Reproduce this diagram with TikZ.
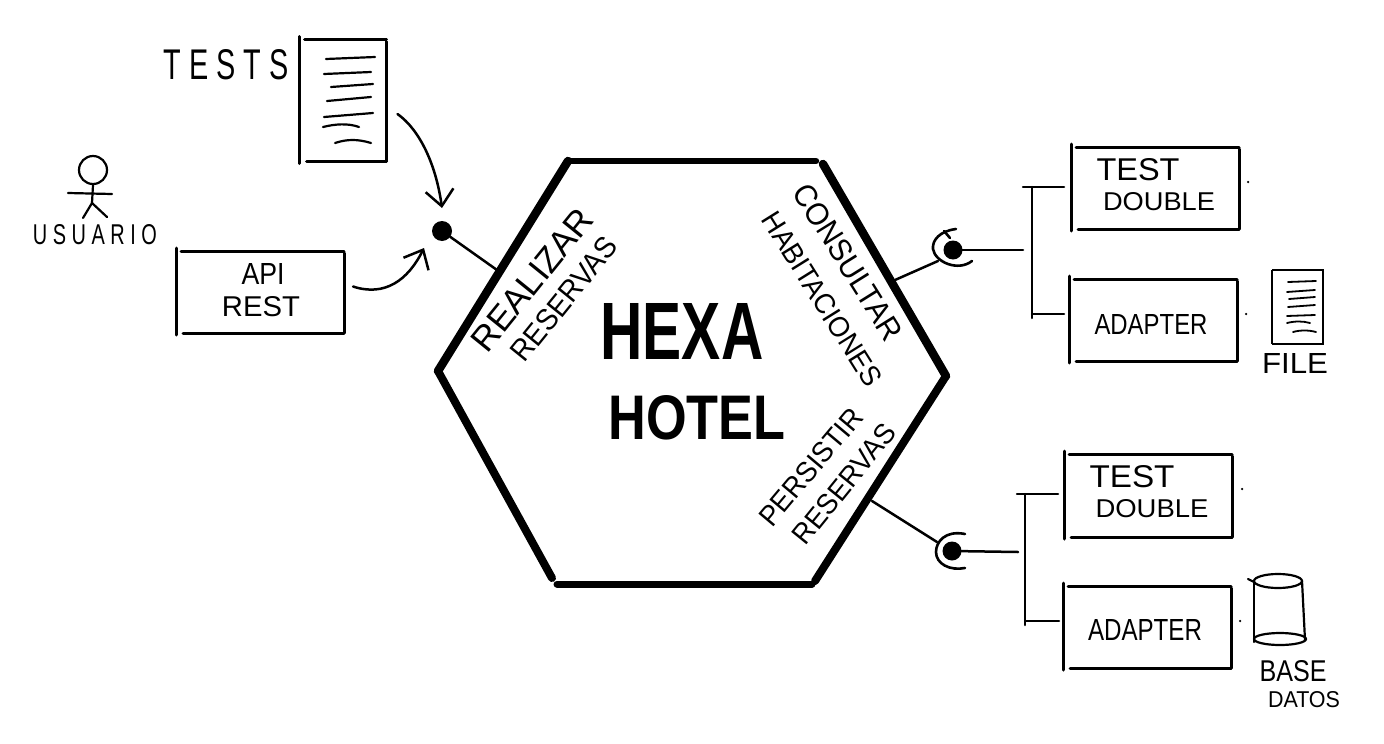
\documentclass[tikz,border=0pt]{standalone}
\usepackage{graphicx}
\usepackage{fontspec}
\setmainfont{Liberation Sans}
\usetikzlibrary{arrows.meta}
\newcommand{\fitt}[3]{\resizebox{#1pt}{#2pt}{#3}}
\newcommand{\handsides}[2][]{%
  \draw[side,#1] ([xshift=5pt,yshift=-1pt]#2.north west) -- ([yshift=-1pt]#2.north east);
  \draw[side,#1] ([yshift=2pt]#2.north west) -- ([yshift=-2pt]#2.south west);
  \draw[side,#1] ([yshift=-3pt]#2.north east) -- (#2.south east);
  \draw[side,#1] ([xshift=7pt]#2.south west) -- (#2.south east);
}
\tikzset{
  x=1pt,y=-1pt,
  side/.style={line width=3pt,line cap=round},
  thinside/.style={line width=2pt},
  hexedge/.style={line width=8pt,line cap=round},
  wire/.style={line width=2.5pt,line cap=round},
  ink/.style={line width=2.2pt,line cap=round},
  writing/.style={line width=1.8pt,line cap=round},
  flow/.style={line width=2.5pt,line cap=round,-{Straight Barb[length=16pt,width=28pt,line width=2.5pt]}},
  holder/.style={inner sep=0pt,outer sep=0pt,rectangle},
  label/.style={inner sep=0pt,outer sep=0pt,font=\normalfont},
  port/.style={circle,fill=black,inner sep=0pt,outer sep=0pt,minimum size=17pt},
  speck/.style={circle,fill=black,inner sep=0pt,outer sep=0pt,minimum size=2.5pt},
}
\begin{document}
\begin{tikzpicture}
\useasboundingbox[fill=white] (0,0) rectangle (1384,744);

% hexagon corners and connection points
\coordinate (htl) at (568,161);
\coordinate (htr) at (816,161);
\coordinate (hrt) at (823,164);
\coordinate (hr)  at (946,376);
\coordinate (hbr) at (815,581);
\coordinate (hbrb) at (812,584);
\coordinate (hbl) at (557,584);
\coordinate (hblu) at (552,578);
\coordinate (hl)  at (438,371);
\coordinate (hport1) at (497,270);
\coordinate (hport2) at (895,280);
\coordinate (hport3) at (872,501);

\draw[hexedge,line width=6.5pt] (htl) -- (htr);
\draw[hexedge,line width=8.5pt] (htl) -- (hl);
\draw[hexedge] (hl) -- (hblu);
\draw[hexedge,line width=7pt] (hbl) -- (hbrb);
\draw[hexedge] (hbr) -- (hr);
\draw[hexedge,line width=8.5pt] (hrt) -- (hr);

% hexagon texts
\node[label] (hexa) at (682,331) {\fitt{163}{56}{\bfseries HEXA}};
\node[label] (hotel) at (697,418) {\fitt{177}{44}{\bfseries HOTEL}};
\node[label,rotate=51] (realizar) at (532,280) {\fitt{172}{24}{REALIZAR}};
\node[label,rotate=51] (reservas1) at (564,299) {\fitt{150}{21}{RESERVAS}};
\node[label,rotate=-58] (consultar) at (848,262) {\fitt{178}{22}{CONSULTAR}};
\node[label,rotate=-58] (habit) at (822,299) {\fitt{200}{20}{HABITACIONES}};
\node[label,rotate=50] (persistir) at (811,467) {\fitt{144}{20}{PERSISTIR}};
\node[label,rotate=51] (reservas2) at (844,484) {\fitt{146}{20}{RESERVAS}};

% tests document
\node[holder,minimum width=87pt,minimum height=123pt] (tests) at (343,100) {};
\handsides{tests}
\draw[ink] (326,59) -- (375,57);
\draw[ink] (324,74) -- (371,72);
\draw[ink] (331,87) -- (373,84);
\draw[ink] (327,101) -- (371,97);
\draw[ink] (324,117) -- (373,113);
\draw[ink] (323,127) .. controls (335,124) and (348,123) .. (359,127);
\draw[ink] (335,143) .. controls (347,139) and (358,139) .. (371,143);
\node[label] (testslabel) at (226,65) {\fitt{125}{30}{T E S T S}};

% person
\node[circle,draw,line width=2.2pt,inner sep=0pt,minimum size=28pt] (head) at (93,170) {};
\coordinate (hip) at (92,203);
\coordinate (armL) at (68,193);
\coordinate (armR) at (112,194);
\coordinate (legL) at (83,218);
\coordinate (legR) at (107,217);
\draw[ink] (head.south) -- (hip);
\draw[ink] (armL) -- (armR);
\draw[ink] (legL) -- (hip) -- (legR);
\node[label] (usuario) at (95,235) {\fitt{124}{20}{U S U A R I O}};

% API box
\node[holder,minimum width=168pt,minimum height=83pt] (api) at (260,291.5) {};
\handsides{api}
\node[label] (apilabel) at (263,274) {\fitt{43}{21}{API}};
\node[label] (restlabel) at (261,307) {\fitt{78}{20}{REST}};

% port 1
\node[port,minimum size=20pt] (port1) at (442,231) {};
\draw[wire] (port1) -- (hport1);
\draw[flow] ([xshift=11pt,yshift=-14pt]tests.east) .. controls (420,130) and (436,165) .. ([yshift=23pt]port1.center);
\draw[flow] ([xshift=9pt,yshift=5pt]api.east) .. controls (385,297) and (408,280) .. ([xshift=-18pt,yshift=-17pt]port1.center);

% port 2
\node[port,minimum size=19pt] (port2) at (953,250) {};
\coordinate (branch2) at (1023,250);
\draw[wire] (port2) -- (branch2);
\draw[wire] (hport2) -- (938,261);
\draw[line width=2.6pt,line cap=round] (956,229) .. controls (940,231) and (932,240) .. (933,249) .. controls (935,262) and (958,272) .. (972,261);
\draw[line width=2.6pt,line cap=round] (944,231) -- (950,238);

% port 3
\node[port,minimum size=19pt] (port3) at (952,551) {};
\coordinate (branch3) at (1018,552);
\draw[wire] (port3) -- (branch3);
\draw[wire] (hport3) -- (937,542);
\draw[line width=2.6pt,line cap=round] (965,534) .. controls (945,530) and (936,542) .. (936,552) .. controls (936,564) and (950,571) .. (965,568);

% upper right boxes
\node[holder,minimum width=168pt,minimum height=83pt] (td1) at (1155,187.5) {};
\handsides{td1}
\node[label] (td1a) at (1138,170) {\fitt{83}{22}{TEST}};
\node[label] (td1b) at (1159,202) {\fitt{112}{18}{DOUBLE}};
\node[holder,minimum width=168pt,minimum height=83pt] (ad1) at (1153,319.5) {};
\handsides{ad1}
\node[label] (ad1a) at (1151,324) {\fitt{113}{20}{ADAPTER}};
\draw[wire] (1023,187) -- ([xshift=-7pt,yshift=0.5pt]td1.west);
\draw[wire] (1032,187) -- (1032,318);
\draw[wire] (1032,314) -- ([xshift=-5pt,yshift=5.5pt]ad1.west);
\node[speck] (s1) at (1248,182) {};
\node[speck] (s2) at (1246,314) {};

% lower right boxes
\node[holder,minimum width=168pt,minimum height=84pt] (td2) at (1148,495) {};
\handsides{td2}
\node[label] (td2a) at (1132,477) {\fitt{85}{22}{TEST}};
\node[label] (td2b) at (1152,509) {\fitt{113}{18}{DOUBLE}};
\node[holder,minimum width=168pt,minimum height=83pt] (ad2) at (1147,626.5) {};
\handsides{ad2}
\node[label] (ad2a) at (1145,630) {\fitt{114}{21}{ADAPTER}};
\draw[wire] (1017,494) -- ([xshift=-6pt,yshift=1pt]td2.west);
\draw[wire] (1025,494) -- (1025,625);
\draw[wire] (1025,621) -- ([xshift=-4pt,yshift=5.5pt]ad2.west);
\node[speck] (s3) at (1242,489) {};
\node[speck] (s4) at (1240,621) {};

% file
\node[holder,minimum width=51pt,minimum height=74pt] (file) at (1297.5,307) {};
\draw[thinside] (file.north west) -- (file.south west);
\draw[thinside] (file.north west) -- (file.north east) -- (file.south east) -- (file.south west);
\draw[writing] (1288,282) -- (1316,281);
\draw[writing] (1287,292) -- (1315,290);
\draw[writing] (1289,299) -- (1315,297);
\draw[writing] (1288,307) -- (1315,305);
\draw[writing] (1287,316) -- (1315,315);
\draw[writing] (1287,323) .. controls (1295,321) and (1303,321) .. (1310,323);
\draw[writing] (1293,332) .. controls (1300,330) and (1309,330) .. (1316,332);
\node[label] (filelabel) at (1295,363) {\fitt{66}{20}{FILE}};

% database
\draw[ink] (1278,581) ellipse [x radius=24,y radius=7];
\draw[ink] (1280,639) ellipse [x radius=26,y radius=6];
\coordinate (cylTL) at (1254,582);
\coordinate (cylBL) at (1254,642);
\coordinate (cylTR) at (1302,581);
\coordinate (cylBR) at (1305,640);
\draw[ink] (cylTL) -- (cylBL);
\draw[ink] (cylTR) -- (cylBR);
\draw[ink] (1248,579) -- (cylTL);
\node[label] (base) at (1293,671) {\fitt{67}{21}{BASE}};
\node[label] (datos) at (1304,700) {\fitt{72}{16}{DATOS}};
\end{tikzpicture}
\end{document}
